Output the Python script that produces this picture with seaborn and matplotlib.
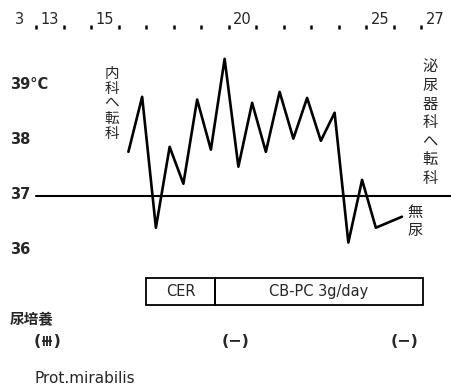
import matplotlib
matplotlib.use("Agg")
import matplotlib.pyplot as plt
from matplotlib.patches import Rectangle
import seaborn as sns
import pandas as pd

# body temperature, two readings a day (day of March, fractional)
time_day = [15.85, 16.35, 16.85, 17.35, 17.85, 18.35, 18.85, 19.35, 19.85, 20.35,
            20.85, 21.35, 21.85, 22.35, 22.85, 23.35, 23.85, 24.35, 24.85, 25.8]
temp_c = [37.8, 38.8, 36.42, 37.89, 37.22, 38.75, 37.84, 39.49, 37.53, 38.69,
          37.8, 38.89, 38.04, 38.78, 38.0, 38.51, 36.15, 37.29, 36.42, 36.62]

# axis labels
day_ticks = [11.9, 13, 15, 20, 25, 27]
day_labels = ["3", "13", "15", "20", "25", "27"]
day_bounds = [12.5 + i for i in range(15)]
temp_ticks = [39, 38, 37, 36]
temp_labels = ["39°C", "38", "37", "36"]

# treatment periods
drugs = ["CER", "CB-PC 3g/day"]
drug_start = [16.5, 19.0]
drug_end = [19.0, 26.55]

# urine culture
culture_days = [12.9, 19.75, 25.9]
culture_results = ["(⧻)", "(−)", "(−)"]
organism = "Prot.mirabilis"

sns.set_style("white")
plt.rcParams["font.family"] = ["DejaVu Sans", "Noto Sans CJK JP"]

fig = plt.figure(figsize=(4.52, 3.90), dpi=100)
ax = fig.add_axes([0, 0, 1, 1])
ax.set_xlim(11.18, 27.62)
ax.set_ylim(33.47, 40.56)

df = pd.DataFrame({"day": time_day, "temp": temp_c})
sns.lineplot(data=df, x="day", y="temp", ax=ax, color="black",
             linewidth=1.9, sort=False)

# 37 degree reference line
ax.plot([12.5, 27.62], [37, 37], color="black", linewidth=1.5)

# top date axis
for s in ["left", "right", "bottom"]:
    ax.spines[s].set_visible(False)
ax.spines["top"].set_position(("data", 40.11))
ax.spines["top"].set_visible(False)
ax.xaxis.tick_top()
ax.set_xticks(day_bounds, labels=[""] * len(day_bounds))
ax.set_xticks(day_ticks, labels=day_labels, minor=True)
ax.tick_params(axis="x", which="major", direction="in", length=3, width=1.8,
               color="black")
ax.tick_params(axis="x", which="minor", length=0, pad=-1.5, labelsize=10.5)
ax.set_yticks([])
ax.set_xlabel("")
ax.set_ylabel("")

# temperature labels
for t, lab in zip(temp_ticks, temp_labels):
    ax.text(11.55, t + 0.02, lab, ha="left", va="center", fontsize=10.5,
            fontweight="bold")

# vertical japanese notes
jp = ["Noto Sans CJK JP"]
ax.text(15.25, 38.67, "\n".join("内科へ転科"), ha="center", va="center",
        fontsize=10.5, linespacing=1.1, family=jp)
ax.text(26.82, 38.33, "\n".join("泌尿器科へ転科"), ha="center", va="center",
        fontsize=11, linespacing=1.12, family=jp)
ax.text(26.27, 36.53, "\n".join("無尿"), ha="center", va="center",
        fontsize=11, linespacing=1.12, family=jp)

# treatment box
box_lo, box_hi = 35.02, 35.51
for name, a, b in zip(drugs, drug_start, drug_end):
    ax.add_patch(Rectangle((a, box_lo), b - a, box_hi - box_lo, fill=False,
                           edgecolor="black", linewidth=1.3))
    ax.text((a + b) / 2, (box_lo + box_hi) / 2, name, ha="center",
            va="center", fontsize=10.5)

# urine culture
ax.text(11.55, 34.75, "尿培養", ha="left", va="center", fontsize=10.5,
        family=jp, fontweight="bold")
for d, r in zip(culture_days, culture_results):
    ax.text(d, 34.36, r, ha="center", va="center", fontsize=11.5,
            fontweight="bold", family=["DejaVu Sans", "Noto Sans CJK JP"])
ax.text(12.45, 33.68, organism, ha="left", va="center", fontsize=11)

fig.savefig("out.png", dpi=100)
